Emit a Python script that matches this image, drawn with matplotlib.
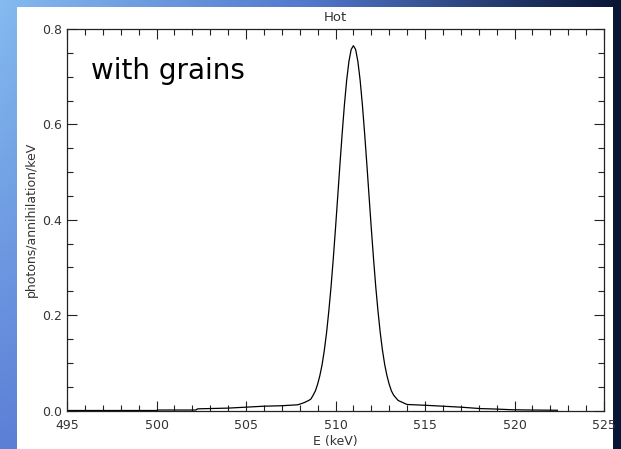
import numpy as np
import matplotlib.pyplot as plt
from matplotlib.patches import Rectangle
from matplotlib.ticker import MultipleLocator

# positron annihilation line, hot phase with grains
energy = [495.0, 500.0, 500.1, 502.2, 502.3, 504.0, 505.0, 506.0, 507.0, 507.9,
          508.25, 508.5, 508.625, 508.75, 508.875, 509.0, 509.125, 509.25,
          509.375, 509.5, 509.625, 509.75, 509.875, 510.0, 510.125, 510.25,
          510.375, 510.5, 510.625, 510.75, 510.875, 511.0, 511.125, 511.25,
          511.375, 511.5, 511.625, 511.75, 511.875, 512.0, 512.125, 512.25,
          512.375, 512.5, 512.625, 512.75, 512.875, 513.0, 513.125, 513.25,
          513.5, 514.0, 515.0, 516.0, 517.0, 518.1, 519.0, 519.9, 521.0, 522.4]
flux = [0.0, 0.0, 0.001, 0.001, 0.0035, 0.005, 0.007, 0.009, 0.010, 0.012,
        0.0165, 0.021, 0.024, 0.032, 0.041, 0.055, 0.073, 0.096,
        0.126, 0.163, 0.208, 0.259, 0.318, 0.382, 0.449, 0.517,
        0.582, 0.642, 0.693, 0.732, 0.757, 0.765, 0.757, 0.732,
        0.693, 0.642, 0.582, 0.517, 0.449, 0.382, 0.318, 0.259,
        0.208, 0.163, 0.126, 0.096, 0.073, 0.055, 0.041, 0.032,
        0.021, 0.0126, 0.011, 0.009, 0.007, 0.004, 0.003, 0.0015, 0.001, 0.0005]

fig = plt.figure(figsize=(6.21, 4.49), dpi=100)

# slide background: light blue on the left fading to navy on the right
bg = fig.add_axes([0, 0, 1, 1], zorder=-10)
t = np.linspace(0, 1, 256)[None, :, None]
v = np.linspace(0, 1, 64)[:, None, None]
left_c = np.array([0.52, 0.73, 0.94]) * (1 - v) + np.array([0.36, 0.50, 0.84]) * v
mid_c = np.array([0.32, 0.47, 0.80])
right_c = np.array([0.03, 0.08, 0.20])
img = np.where(t < 0.5,
               left_c + (mid_c - left_c) * (t / 0.5),
               mid_c + (right_c - mid_c) * ((t - 0.5) / 0.5))
bg.imshow(img, aspect='auto', extent=[0, 1, 0, 1], origin='upper')
bg.set_xlim(0, 1)
bg.set_ylim(0, 1)
bg.axis('off')
fig.patches.append(Rectangle((17 / 621, 0), (613 - 17) / 621, 1 - 7 / 449,
                             transform=fig.transFigure, facecolor='white',
                             edgecolor='none', zorder=-5))

ax = fig.add_axes([67 / 621, 1 - 410.5 / 449, (604 - 67) / 621, (410.5 - 29) / 449])
ax.plot(energy, flux, color='black', lw=0.9)

ax.set_xlim(495, 525)
ax.set_ylim(0, 0.8)
ax.xaxis.set_major_locator(MultipleLocator(5))
ax.xaxis.set_minor_locator(MultipleLocator(1))
ax.yaxis.set_major_locator(MultipleLocator(0.2))
ax.yaxis.set_minor_locator(MultipleLocator(0.05))
ax.yaxis.set_major_formatter(plt.FuncFormatter(lambda v, p: f'{v:.1f}'))
ax.tick_params(which='both', direction='in', top=True, right=True,
               labelsize=9, labelcolor='#333333', color='#222222', width=0.8)
ax.tick_params(which='major', length=7)
ax.tick_params(which='minor', length=4)
ax.tick_params(axis='x', pad=6)
for s in ax.spines.values():
    s.set_linewidth(0.9)
    s.set_color('#222222')

ax.set_title('Hot', fontsize=9.5, color='#333333', pad=6)
ax.set_xlabel('E (keV)', fontsize=9, color='#333333', labelpad=2)
ax.set_ylabel('photons/annihilation/keV', fontsize=9, color='#333333', labelpad=3)
ax.text(0.045, 0.89, 'with grains', transform=ax.transAxes, fontsize=20,
        color='black', va='center', ha='left')

fig.savefig('out.png', dpi=100)
